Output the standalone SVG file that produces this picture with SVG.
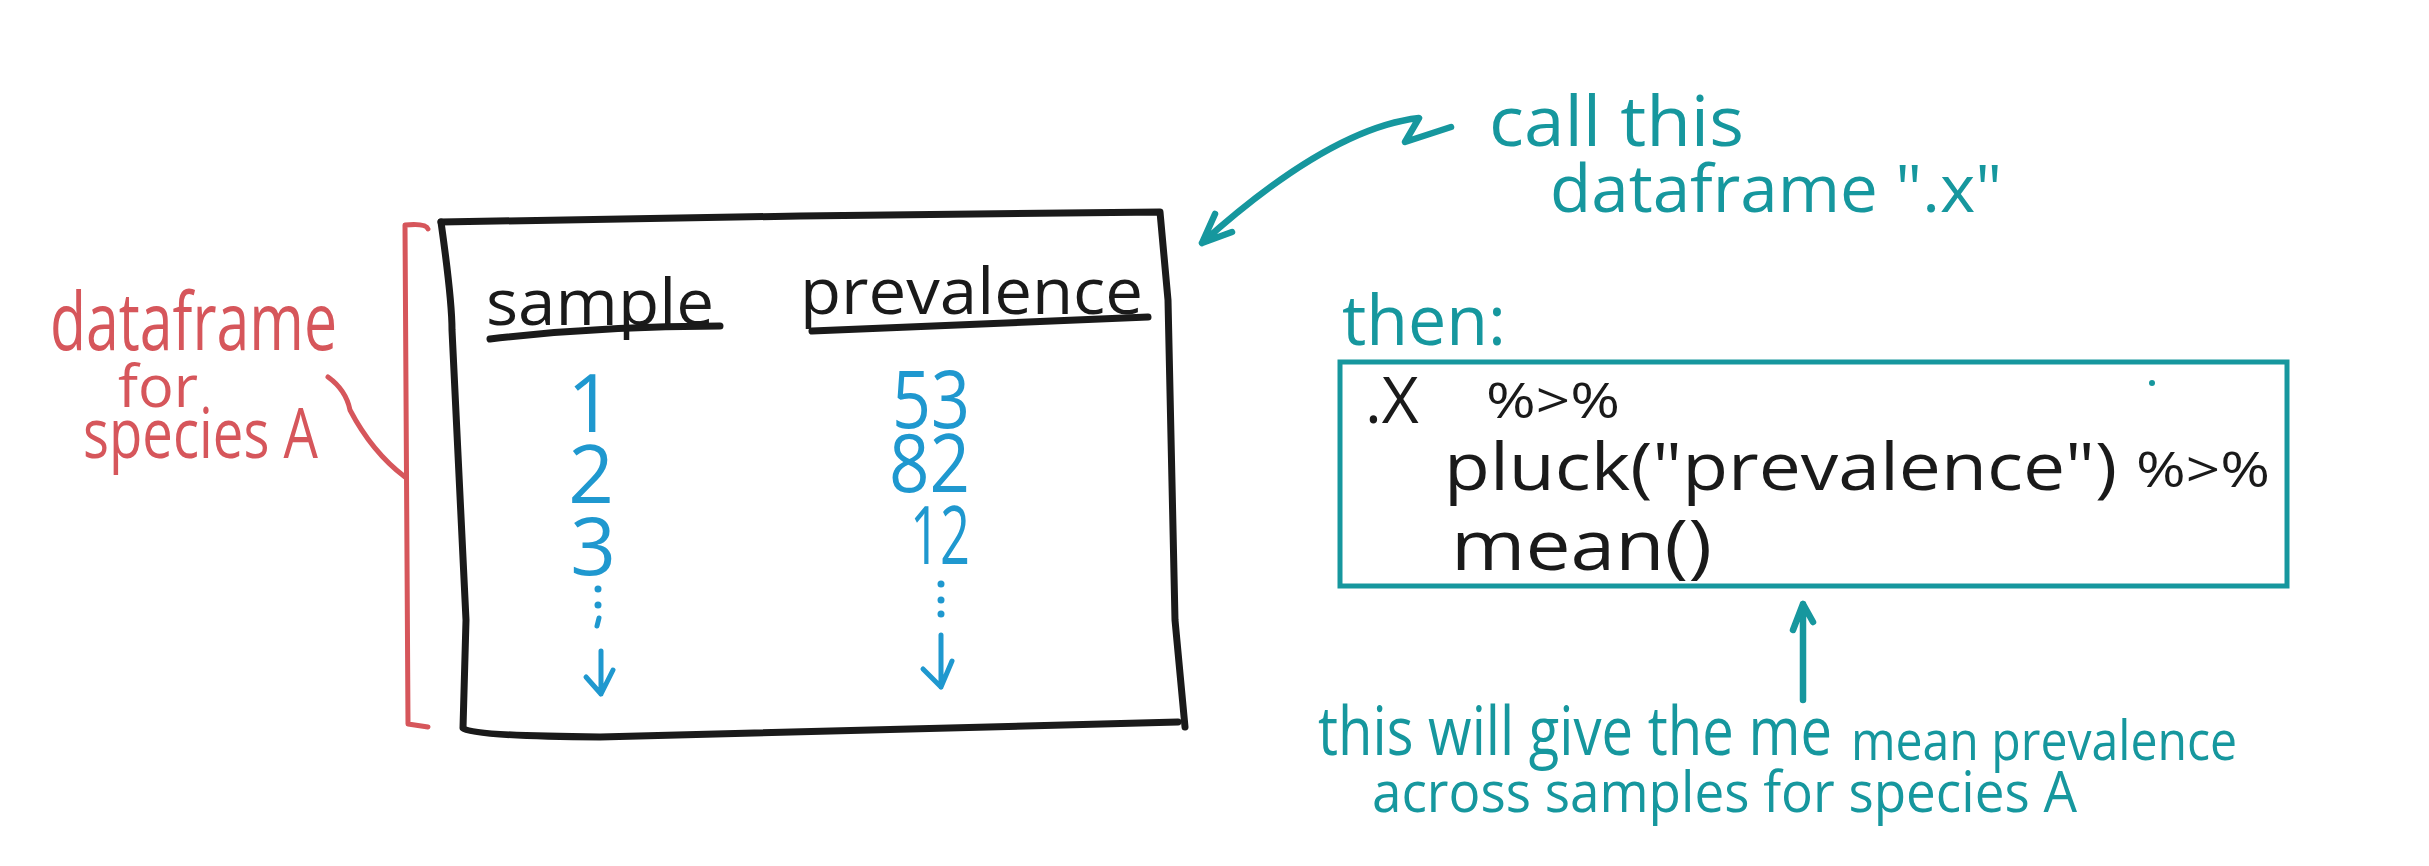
<svg xmlns="http://www.w3.org/2000/svg" width="2429" height="866" viewBox="0 0 2429 866">
<style>
  text { font-family: "Open Sans", "Liberation Sans", sans-serif; }
  .red { fill: #d6565b; }
  .blk { fill: #1a1a1a; }
  .blue { fill: #1f98cf; }
  .teal { fill: #16979e; }
  .sk { fill: none; stroke-linecap: round; stroke-linejoin: round; }
  .sred { stroke: #d6565b; stroke-width: 5; }
  .sblk { stroke: #1a1a1a; stroke-width: 7; }
  .sblue { stroke: #1f98cf; stroke-width: 5; }
  .steal { stroke: #16979e; stroke-width: 6.5; }
</style>
<rect width="2429" height="866" fill="#ffffff"/>

<g id="label-left">
  <text class="red" x="50" y="350" font-size="80" textLength="287" lengthAdjust="spacingAndGlyphs">dataframe</text>
  <text class="red" x="118" y="407" font-size="58" textLength="80" lengthAdjust="spacingAndGlyphs">for</text>
  <text class="red" x="83" y="458" font-size="70" textLength="235" lengthAdjust="spacingAndGlyphs">species A</text>
</g>

<g id="bracket">
  <path class="sk sred" d="M428,229 Q426,223 405,225 L408,724 L428,727"/>
</g>

<g id="table">
  <path class="sk sblk" d="M441,222 L800,216 L1160,212 L1168,300 L1175,620 L1185,727"/>
  <path class="sk sblk" d="M441,222 Q452,300 452,330 L466,620 L463,728 Q470,736 600,737 L1178,722"/>
  <text class="blk" x="486" y="325" font-size="64" textLength="228" lengthAdjust="spacingAndGlyphs">sample</text>
  <path class="sk sblk" d="M490,339 Q600,326 720,326"/>
  <text class="blk" x="800" y="314" font-size="64" textLength="343" lengthAdjust="spacingAndGlyphs">prevalence</text>
  <path class="sk sblk" d="M812,331 L1148,317"/>
  <text class="blue" x="590" y="432" font-size="80" text-anchor="middle">1</text>
  <text class="blue" x="591" y="503" font-size="80" text-anchor="middle">2</text>
  <text class="blue" x="593" y="575" font-size="80" text-anchor="middle">3</text>
  <text class="blue" x="892" y="428" font-size="80" textLength="78" lengthAdjust="spacingAndGlyphs">53</text>
  <text class="blue" x="889" y="492" font-size="80" textLength="81" lengthAdjust="spacingAndGlyphs">82</text>
  <text class="blue" x="910" y="564" font-size="80" textLength="60" lengthAdjust="spacingAndGlyphs">12</text>
  <g class="blue">
    <circle cx="598" cy="589" r="3.5"/>
    <circle cx="598" cy="605" r="3.5"/>
    <circle cx="941" cy="584" r="3.5"/>
    <circle cx="941" cy="600" r="3.5"/>
    <circle cx="941" cy="614" r="3.5"/>
  </g>
  <path class="sk sblue" d="M599,618 L597,626"/>
  <path class="sk sblue" d="M601,651 L601,694 M586,677 L601,694 L613,670"/>
  <path class="sk sblue" d="M941,635 L941,687 M923,669 L941,687 L952,661"/>
</g>

<g id="call-label">
  <text class="teal" x="1489" y="146" font-size="70" textLength="255" lengthAdjust="spacingAndGlyphs">call this</text>
  <text class="teal" x="1550" y="212" font-size="66" textLength="452" lengthAdjust="spacingAndGlyphs">dataframe ".x"</text>
</g>

<g id="code-box">
  <text class="teal" x="1342" y="345" font-size="70" textLength="164" lengthAdjust="spacingAndGlyphs">then:</text>
  <rect x="1340" y="362" width="947" height="224" fill="none" stroke="#16979e" stroke-width="5"/>
  <circle cx="2152" cy="383" r="3" fill="#16979e"/>
  <text class="blk" x="1365" y="423" font-size="64">.X</text>
  <text class="blk" x="1486" y="418" font-size="50" textLength="134" lengthAdjust="spacingAndGlyphs">%&gt;%</text>
  <text class="blk" x="1444" y="490" font-size="66" textLength="673" lengthAdjust="spacingAndGlyphs">pluck("prevalence")</text>
  <text class="blk" x="2136" y="487" font-size="50" textLength="134" lengthAdjust="spacingAndGlyphs">%&gt;%</text>
  <text class="blk" x="1451" y="570" font-size="70" textLength="261" lengthAdjust="spacingAndGlyphs">mean()</text>
</g>

<g id="bottom-label">
  <text class="teal" x="1318" y="755" font-size="68" textLength="514" lengthAdjust="spacingAndGlyphs">this will give the me</text>
  <text class="teal" x="1851" y="760" font-size="54" textLength="386" lengthAdjust="spacingAndGlyphs">mean prevalence</text>
  <text class="teal" x="1372" y="812" font-size="56" textLength="705" lengthAdjust="spacingAndGlyphs">across samples for species A</text>
</g>

<g id="connectors">
  <path class="sk sred" d="M328,377 Q346,390 350,410 Q372,452 405,477"/>
  <path class="sk steal" d="M1451,127 L1405,142 L1419,118 Q1330,128 1202,243 M1215,214 L1202,243 L1232,232"/>
  <path class="sk steal" d="M1803,700 L1803,604 M1793,630 L1803,604 L1813,622"/>
</g>
</svg>
